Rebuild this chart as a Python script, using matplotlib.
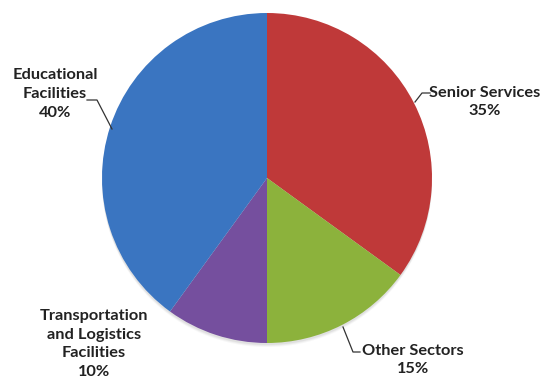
import matplotlib
matplotlib.use("Agg")
from matplotlib import pyplot as plt
from matplotlib.patches import Circle

# pie data (clockwise from 12 o'clock)
sectors = ["Senior Services", "Other Sectors", "Transportation\nand Logistics\nFacilities", "Educational\nFacilities"]
shares = [35, 15, 10, 40]
colors = ["#BF3939", "#8CB23C", "#754F9E", "#3A75C1"]

W, H = 543, 381
CX, CY, R = 267, 178, 165


def px(x, y):
    # pixel position (top-left origin) -> axes data coords
    return x, H - y


fig = plt.figure(figsize=(W / 100, H / 100), dpi=100)
ax = fig.add_axes([0, 0, 1, 1])

# soft shadow under the pie
for off, a in [(4, 0.06), (3, 0.08), (2, 0.1)]:
    ax.add_patch(Circle(px(CX, CY + off), R, color="#777777", alpha=a, lw=0, zorder=0))

ax.pie(shares, colors=colors, startangle=90, counterclock=False,
       center=px(CX, CY), radius=R, frame=True,
       wedgeprops=dict(linewidth=0, zorder=1))
ax.set_xlim(0, W)
ax.set_ylim(0, H)
ax.set_aspect("equal")
ax.axis("off")

font = dict(family=["Lato", "DejaVu Sans"], fontweight="bold", fontsize=11.8,
            color="#222222", ha="center", va="center", linespacing=1.43)

# label text positions and leader lines (pixels)
label_pos = [(485, 102), (413, 360), (94, 344), (55, 94)]
leaders = [
    [(415, 102), (422, 93), (430, 93)],
    [(343, 327), (353, 352), (360, 352)],
    None,
    [(87, 100), (97, 100), (112, 129)],
]

for name, val, pos, ld in zip(sectors, shares, label_pos, leaders):
    ax.text(*px(*pos), f"{name}\n{val}%", **font)
    if ld:
        xs, ys = zip(*[px(*p) for p in ld])
        ax.plot(xs, ys, color="#333333", linewidth=0.9)

fig.savefig("out.png", dpi=100)
